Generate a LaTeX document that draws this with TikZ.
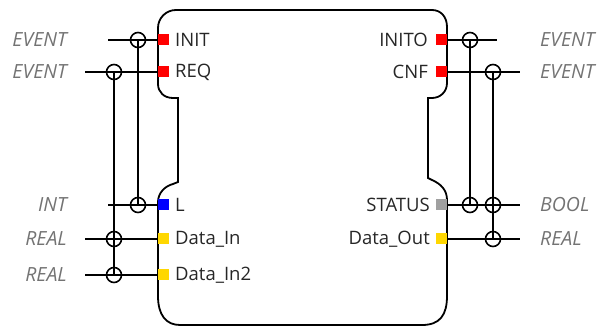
\documentclass[tikz,border=0pt]{standalone}
\usepackage{fontspec}
\setmainfont{Open Sans}
\begin{document}
\begin{tikzpicture}[x=1pt,y=-1pt,
  wire/.style={line width=1.6pt,black},
  vwire/.style={line width=1.4pt,black},
  outline/.style={line width=1.8pt,black},
  port/.style={minimum size=11pt,inner sep=0pt,outer sep=0pt,draw=none},
  junc/.style={circle,draw,line width=1.6pt,minimum size=15pt,inner sep=0pt},
  plabel/.style={font=\fontsize{18.5}{22}\selectfont,text=black!85,inner sep=0pt},
  tlabel/.style={font=\fontsize{19.5}{22}\selectfont\itshape,text=black!55,inner sep=0pt},
]
\useasboundingbox (0,0) rectangle (598,326);
% block outline
\draw[outline] (176,10) -- (432,10) .. controls (441,10) and (447,17) .. (447,27)
  -- (447,83) .. controls (447,92) and (440,98) .. (432,98) -- (428,98)
  -- (428,178) -- (432,180) .. controls (441,184) and (447,190) .. (447,200)
  -- (447,296) .. controls (447,315) and (440,325) .. (422,325)
  -- (180,325) .. controls (166,325) and (158,315) .. (158,296)
  -- (158,202) .. controls (158,193) and (165,186) .. (173,184) -- (178,182)
  -- (178,98) -- (173,98) .. controls (164,98) and (158,92) .. (158,84)
  -- (158,28) .. controls (158,18) and (166,10) .. (176,10) -- cycle;
% ports
\node[port,fill=red] (pINIT) at (163.5,40) {};
\node[port,fill=red] (pREQ) at (163.5,72) {};
\node[port,fill={rgb,255:red,0;green,0;blue,255}] (pL) at (163.5,205) {};
\node[port,fill={rgb,255:red,255;green,215;blue,0}] (pIn) at (163.5,239) {};
\node[port,fill={rgb,255:red,255;green,215;blue,0}] (pIn2) at (163.5,275) {};
\node[port,fill=red] (pINITO) at (441.5,40) {};
\node[port,fill=red] (pCNF) at (441.5,72) {};
\node[port,fill={rgb,255:red,160;green,160;blue,160}] (pSTATUS) at (441.5,205) {};
\node[port,fill={rgb,255:red,255;green,215;blue,0}] (pOut) at (441.5,239) {};
% port labels
\node[plabel,anchor=west] (lINIT) at (175,40) {INIT};
\node[plabel,anchor=west] (lREQ) at (175,72) {REQ};
\node[plabel,anchor=west] (lL) at (175,205) {L};
\node[plabel,anchor=west] (lIn) at (175,239) {Data\_In};
\node[plabel,anchor=west] (lIn2) at (175,275) {Data\_In2};
\node[plabel,anchor=east] (lINITO) at (428,40) {INITO};
\node[plabel,anchor=east] (lCNF) at (428,72) {CNF};
\node[plabel,anchor=east] (lSTATUS) at (430,205) {STATUS};
\node[plabel,anchor=east] (lOut) at (430,239) {Data\_Out};
% type labels
\node[tlabel,anchor=east] (tINIT) at (67,40) {EVENT};
\node[tlabel,anchor=east] (tREQ) at (67,72) {EVENT};
\node[tlabel,anchor=east] (tL) at (67,205) {INT};
\node[tlabel,anchor=east] (tIn) at (67,239) {REAL};
\node[tlabel,anchor=east] (tIn2) at (67,275) {REAL};
\node[tlabel,anchor=west] (tINITO) at (540,40) {EVENT};
\node[tlabel,anchor=west] (tCNF) at (540,72) {EVENT};
\node[tlabel,anchor=west] (tSTATUS) at (540,205) {BOOL};
\node[tlabel,anchor=west] (tOut) at (540,239) {REAL};
% wire ends
\coordinate (eINIT) at (108,40);
\coordinate (eREQ) at (85,72);
\coordinate (eL) at (108,205);
\coordinate (eIn) at (85,239);
\coordinate (eIn2) at (85,275);
\coordinate (eINITO) at (497,40);
\coordinate (eCNF) at (520,72);
\coordinate (eSTATUS) at (520,205);
\coordinate (eOut) at (520,239);
% junctions
\node[junc] (cINIT) at (138,40) {};
\node[junc] (cREQ) at (114,72) {};
\node[junc] (cL) at (138,205) {};
\node[junc] (cIn) at (114,239) {};
\node[junc] (cIn2) at (114,275) {};
\node[junc] (cINITO) at (470,40) {};
\node[junc] (cCNF) at (493,72) {};
\node[junc] (cSTATUSa) at (470,205) {};
\node[junc] (cSTATUSb) at (493,205) {};
\node[junc] (cOut) at (493,239) {};
% horizontal wires
\draw[wire] (eINIT) -- (pINIT.west);
\draw[wire] (eREQ) -- (pREQ.west);
\draw[wire] (eL) -- (pL.west);
\draw[wire] (eIn) -- (pIn.west);
\draw[wire] (eIn2) -- (pIn2.west);
\draw[wire] (pINITO.east) -- (eINITO);
\draw[wire] (pCNF.east) -- (eCNF);
\draw[wire] (pSTATUS.east) -- (eSTATUS);
\draw[wire] (pOut.east) -- (eOut);
% vertical wires
\draw[vwire] (cINIT.center) -- (cL.center);
\draw[vwire] (cREQ.center) -- (cIn2.center);
\draw[vwire] (cINITO.center) -- (cSTATUSa.center);
\draw[vwire] (cCNF.center) -- (cOut.center);
\end{tikzpicture}
\end{document}
